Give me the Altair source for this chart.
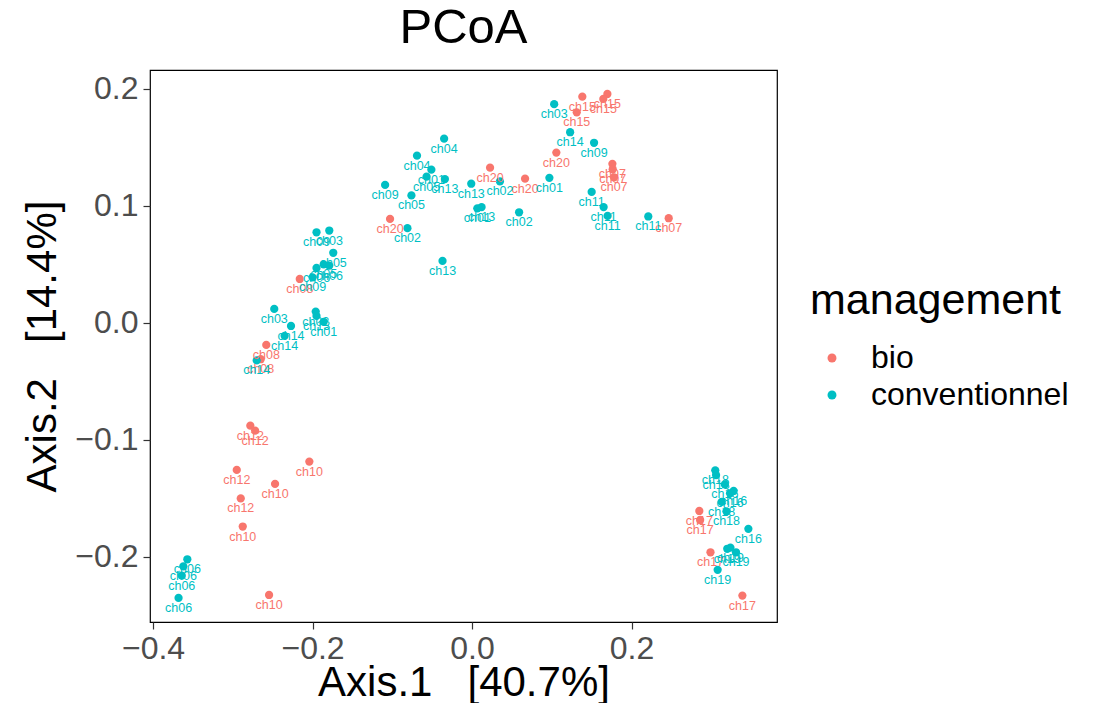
import altair as alt
import pandas as pd

# conventionnel points
conv_x = [-0.195, -0.179, -0.174, -0.195, -0.186, -0.179, -0.200, -0.248, -0.196, -0.195,
          -0.186, -0.227, -0.235, -0.270, -0.357, -0.362, -0.364, -0.368, -0.035, -0.069,
          -0.051, -0.057, -0.034, -0.109, -0.076, -0.001, 0.035, 0.097, 0.123, 0.0066,
          0.012, 0.059, -0.081, -0.037, 0.103, 0.153, 0.150, 0.165, 0.170, 0.221,
          0.305, 0.306, 0.317, 0.328, 0.3235, 0.313, 0.319, 0.3465, 0.320, 0.324,
          0.331, 0.308]
conv_y = [0.0775, 0.079, 0.060, 0.047, 0.050, 0.049, 0.039, 0.012, 0.0097, 0.006,
          0.001, -0.0026, -0.011, -0.032, -0.202, -0.208, -0.216, -0.235, 0.1575, 0.143,
          0.131, 0.125, 0.123, 0.118, 0.109, 0.119, 0.121, 0.124, 0.163, 0.098,
          0.099, 0.0946, 0.081, 0.053, 0.187, 0.154, 0.112, 0.099, 0.0915, 0.091,
          -0.126, -0.130, -0.138, -0.1436, -0.1456, -0.153, -0.161, -0.176, -0.193, -0.192,
          -0.196, -0.211]
conv_lab = ["ch09", "ch03", "ch05", "ch06", "ch05", "ch06", "ch09", "ch03", "ch02", "ch13",
            "ch01", "ch14", "ch14", "ch14", "ch06", "ch06", "ch06", "ch06", "ch04", "ch04",
            "ch01", "ch05", "ch13", "ch09", "ch05", "ch13", "ch02", "ch01", "ch14", "ch01",
            "ch13", "ch02", "ch02", "ch13", "ch03", "ch09", "ch11", "ch11", "ch11", "ch11",
            "ch18", "ch18", "ch16", "ch16", "ch16", "ch18", "ch18", "ch16", "ch19", "ch19",
            "ch19", "ch19"]

# bio points
bio_x = [-0.216, -0.258, -0.265, -0.278, -0.272, -0.204, -0.295, -0.247, -0.290, -0.2875,
         -0.2545, 0.0226, 0.0665, 0.1057, -0.1028, 0.1383, 0.1313, 0.1697, 0.1646, 0.176,
         0.1764, 0.178, 0.2466, 0.285, 0.286, 0.299, 0.339]
bio_y = [0.0376, -0.0188, -0.031, -0.0878, -0.092, -0.1185, -0.1256, -0.1376, -0.150, -0.174,
         -0.2325, 0.1327, 0.1233, 0.1456, 0.0889, 0.1934, 0.180, 0.1957, 0.1915, 0.136,
         0.1314, 0.1245, 0.0895, -0.1607, -0.1684, -0.196, -0.233]
bio_lab = ["ch08", "ch08", "ch08", "ch12", "ch12", "ch10", "ch12", "ch10", "ch12", "ch10",
           "ch10", "ch20", "ch20", "ch20", "ch20", "ch15", "ch15", "ch15", "ch15", "ch07",
           "ch07", "ch07", "ch07", "ch17", "ch17", "ch17", "ch17"]

df = pd.concat([
    pd.DataFrame({"Axis1": bio_x, "Axis2": bio_y, "label": bio_lab, "management": "bio"}),
    pd.DataFrame({"Axis1": conv_x, "Axis2": conv_y, "label": conv_lab, "management": "conventionnel"}),
])

FONT = "Liberation Sans"
NB = "\u00a0"
color = alt.Color("management:N",
                  scale=alt.Scale(domain=["bio", "conventionnel"], range=["#F8766D", "#00BFC4"]),
                  legend=alt.Legend(title="management", orient="none", legendX=660, legendY=210,
                                    titleFontSize=43, titleFontWeight="normal", titleColor="black",
                                    labelFontSize=32, labelColor="black", symbolSize=80,
                                    symbolType="circle", rowPadding=5, titlePadding=19,
                                    symbolStrokeWidth=0, symbolOffset=6, labelOffset=23,
                                    labelLimit=0, titleLimit=0))

xs = alt.X("Axis1:Q", scale=alt.Scale(domain=[-0.4038, 0.3824], nice=False, zero=False),
           axis=alt.Axis(title=f"Axis.1{NB}{NB}{NB}[40.7%]", values=[-0.4, -0.2, 0.0, 0.2], format=".1f",
                         grid=False, domain=False, tickColor="#333333", tickSize=7, tickWidth=1.2,
                         labelFontSize=32, labelColor="#4D4D4D", labelPadding=4,
                         titleFontSize=42, titleFontWeight="normal", titleColor="black",
                         titlePadding=-2))
ys = alt.Y("Axis2:Q", scale=alt.Scale(domain=[-0.2556, 0.2162], nice=False, zero=False),
           axis=alt.Axis(title=f"Axis.2{NB}{NB}{NB}[14.4%]", values=[-0.2, -0.1, 0.0, 0.1, 0.2], format=".1f",
                         grid=False, domain=False, tickColor="#333333", tickSize=7, tickWidth=1.2,
                         labelFontSize=32, labelColor="#4D4D4D", labelPadding=5,
                         titleFontSize=42, titleFontWeight="normal", titleColor="black",
                         titlePadding=10))

base = alt.Chart(df)
pts = base.mark_circle(size=68, opacity=1).encode(x=xs, y=ys, color=color)
txt = base.mark_text(dy=10, fontSize=12.5, font=FONT, baseline="middle").encode(
    x="Axis1:Q", y="Axis2:Q", text="label:N", color=alt.Color("management:N", legend=None))

chart = alt.layer(pts, txt).properties(
    width=627, height=552,
    title=alt.Title("PCoA", fontSize=49, fontWeight="normal", color="black", anchor="middle", offset=17),
    autosize=alt.AutoSizeParams(type="none"),
    padding={"left": 142, "top": 62, "right": 322, "bottom": 81},
).configure(font=FONT).configure_view(stroke="black", strokeWidth=1.2)

chart.save("out.html", embed_options={"renderer": "svg", "actions": False})
